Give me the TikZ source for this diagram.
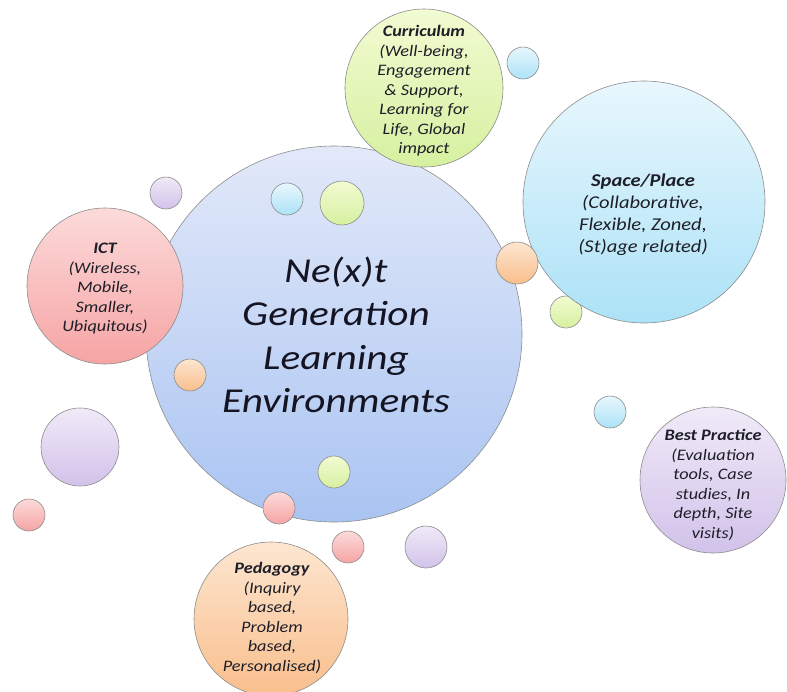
\documentclass[tikz,border=0pt]{standalone}
\usepackage{fontspec}
\setmainfont{Carlito}
\newfontfamily\widefont[FakeStretch=1.14]{Carlito}
\newfontfamily\widerfont[FakeStretch=1.18]{Carlito}
\begin{document}
\begin{tikzpicture}[x=1pt,y=-1pt,
  bubble/.style={circle, draw=black!45, line width=0.6pt, inner sep=0pt, minimum size=#1},
  mainb/.style={top color={rgb,255:red,226;green,233;blue,249}, bottom color={rgb,255:red,170;green,196;blue,242}},
  cyanb/.style={top color={rgb,255:red,232;green,247;blue,253}, bottom color={rgb,255:red,172;green,226;blue,247}},
  greenb/.style={top color={rgb,255:red,242;green,251;blue,210}, bottom color={rgb,255:red,214;green,240;blue,160}},
  pinkb/.style={top color={rgb,255:red,252;green,218;blue,218}, bottom color={rgb,255:red,246;green,164;blue,164}},
  peachb/.style={top color={rgb,255:red,253;green,230;blue,208}, bottom color={rgb,255:red,249;green,190;blue,140}},
  lilacb/.style={top color={rgb,255:red,240;green,234;blue,248}, bottom color={rgb,255:red,210;green,194;blue,234}},
  title/.style={font=\widefont\fontsize{16}{19.5}\selectfont\itshape, align=center, text={rgb,255:red,30;green,30;blue,40}},
]
\useasboundingbox (0,0) rectangle (787,691);

% central bubble
\node[bubble=376pt, mainb] (main) at (334,334) {};
\node[font=\widerfont\fontsize{35}{43.5}\selectfont\itshape, align=center, text={rgb,255:red,20;green,20;blue,35}] (maintext) at (336,335)
  {Ne(x)t\\Generation\\Learning\\Environments};

% small bubbles on and around the central one
\node[bubble=32pt, cyanb] (s1) at (287,199) {};
\node[bubble=44pt, greenb] (s2) at (342,203) {};
\node[bubble=32pt, peachb] (s3) at (190,375) {};
\node[bubble=32pt, greenb] (s4) at (334,472) {};
\node[bubble=32pt, pinkb] (s5) at (279,508) {};
\node[bubble=32pt, pinkb] (s6) at (348,547) {};
\node[bubble=42pt, lilacb] (s7) at (426,547) {};
\node[bubble=32pt, lilacb] (s8) at (166,193) {};
\node[bubble=78pt, lilacb] (s9) at (80,447) {};
\node[bubble=32pt, pinkb] (s10) at (29,515) {};
\node[bubble=32pt, cyanb] (s11) at (523,63) {};
\node[bubble=32pt, cyanb] (s12) at (610,412) {};
\node[bubble=32pt, greenb] (s13) at (566,312) {};

% theme bubbles
\node[bubble=156pt, pinkb] (ict) at (105,286) {};
\node[title] at (105,289) {\textbf{ICT}\\(Wireless,\\Mobile,\\Smaller,\\Ubiquitous)};

\node[bubble=158pt, greenb] (curr) at (424,88) {};
\node[title] at (424,91) {\textbf{Curriculum}\\(Well-being,\\Engagement\\\& Support,\\Learning for\\Life, Global\\impact};

\node[bubble=242pt, cyanb] (space) at (644,202) {};
\node[title, font=\widefont\fontsize{18}{22}\selectfont\itshape] at (643,215) {\textbf{Space/Place}\\(Collaborative,\\Flexible, Zoned,\\(St)age related)};

\node[bubble=42pt, peachb] (s14) at (517,263) {};

\node[bubble=154pt, peachb] (ped) at (271,619) {};
\node[title] at (272,618) {\textbf{Pedagogy}\\(Inquiry\\based,\\Problem\\based,\\Personalised)};

\node[bubble=146pt, lilacb] (best) at (713,480) {};
\node[title] at (713,485) {\textbf{Best Practice}\\(Evaluation\\tools, Case\\studies, In\\depth, Site\\visits)};
\end{tikzpicture}
\end{document}
